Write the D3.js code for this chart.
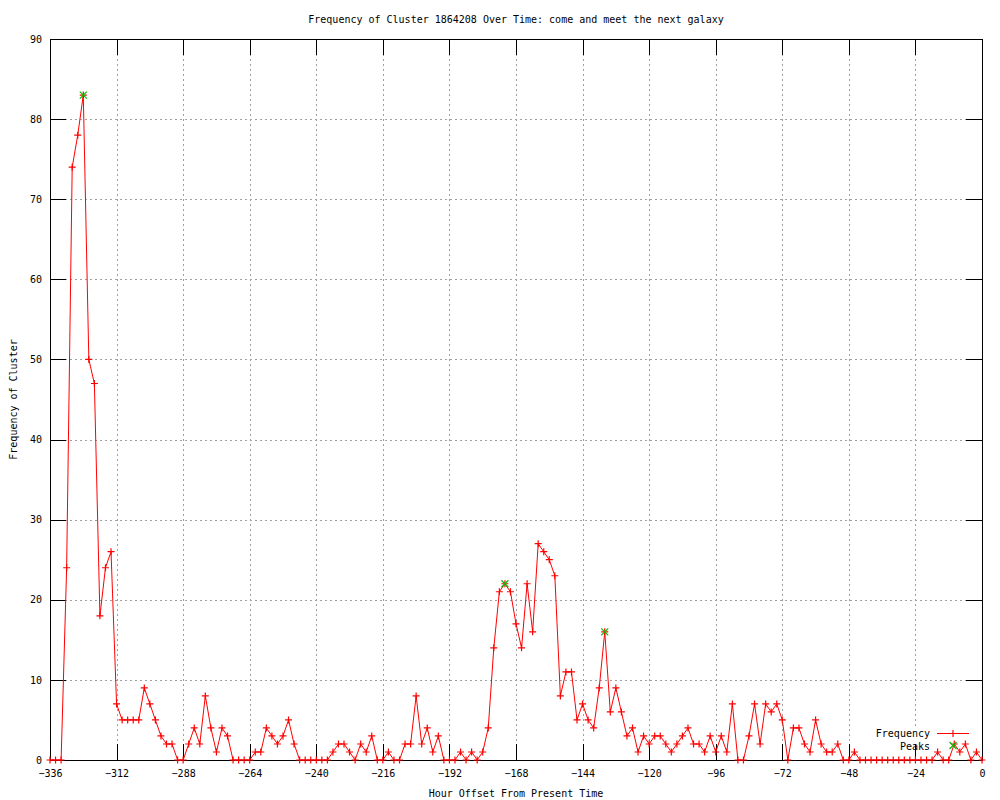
<!DOCTYPE html>
<html>
<head>
<meta charset="utf-8">
<script src="https://cdn.jsdelivr.net/npm/d3@7"></script>
<style>
  html, body { margin: 0; padding: 0; background: #fff; }
  svg { display: block; }
  text { font-family: "DejaVu Sans Mono", monospace; font-size: 10px; fill: #000; }
</style>
</head>
<body>
<div id="chart"></div>
<script>
// ---- Data ----
const titleText = "Frequency of Cluster 1864208 Over Time: come and meet the next galaxy";
const xLabel = "Hour Offset From Present Time";
const yLabel = "Frequency of Cluster";
const seriesNames = ["Frequency", "Peaks"];

// hours from -336 to 0, every 2 hours
const hours = d3.range(-336, 1, 2);
const frequency = [
  0, 0, 0, 24, 74, 78, 83, 50, 47, 18,
  24, 26, 7, 5, 5, 5, 5, 9, 7, 5,
  3, 2, 2, 0, 0, 2, 4, 2, 8, 4,
  1, 4, 3, 0, 0, 0, 0, 1, 1, 4,
  3, 2, 3, 5, 2, 0, 0, 0, 0, 0,
  0, 1, 2, 2, 1, 0, 2, 1, 3, 0,
  0, 1, 0, 0, 2, 2, 8, 2, 4, 1,
  3, 0, 0, 0, 1, 0, 1, 0, 1, 4,
  14, 21, 22, 21, 17, 14, 22, 16, 27, 26,
  25, 23, 8, 11, 11, 5, 7, 5, 4, 9,
  16, 6, 9, 6, 3, 4, 1, 3, 2, 3,
  3, 2, 1, 2, 3, 4, 2, 2, 1, 3,
  1, 3, 1, 7, 0, 0, 3, 7, 2, 7,
  6, 7, 5, 0, 4, 4, 2, 1, 5, 2,
  1, 1, 2, 0, 0, 1, 0, 0, 0, 0,
  0, 0, 0, 0, 0, 0, 0, 0, 0, 0,
  1, 0, 0, 2, 1, 2, 0, 1, 0
];
const peakHours = [-324, -172, -136];
const peakValues = [83, 22, 16];

const xTicks = d3.range(-336, 1, 24);
const yTicks = d3.range(0, 91, 10);

// ---- Layout ----
const W = 1000, H = 800;
const pLeft = 50, pRight = 982, pTop = 39, pBottom = 760;
const tickLen = 16;
const red = "#ff0000", green = "#00c000";

const svg = d3.select("#chart").append("svg").attr("width", W).attr("height", H);

const x = d3.scaleLinear().domain([-336, 0]).range([pLeft, pRight]);
const y = d3.scaleLinear().domain([0, 90]).range([pBottom, pTop]);

const freqData = hours.map((h, i) => ({ h, v: frequency[i] }));
const peakData = peakHours.map((h, i) => ({ h, v: peakValues[i] }));

const crisp = v => Math.round(v) + 0.5;

// grid
const grid = svg.append("g").attr("stroke", "#a0a0a0").attr("stroke-dasharray", "2,3")
  .attr("shape-rendering", "crispEdges");
xTicks.filter(t => t !== -336 && t !== 0).forEach(t => {
  grid.append("line").attr("x1", crisp(x(t))).attr("x2", crisp(x(t)))
    .attr("y1", pTop).attr("y2", pBottom);
});
yTicks.filter(t => t !== 0 && t !== 90).forEach(t => {
  grid.append("line").attr("y1", crisp(y(t))).attr("y2", crisp(y(t)))
    .attr("x1", pLeft).attr("x2", pRight);
});

// legend background (key area hides grid)
svg.append("rect").attr("x", 868).attr("y", 726).attr("width", 108).attr("height", 27).attr("fill", "#fff");

// axes via d3 axis generators (inner ticks, mirrored)
const axisStyle = g => {
  g.select(".domain").remove();
  g.selectAll("line").attr("stroke", "#000").attr("shape-rendering", "crispEdges");
};
const bottomAxis = svg.append("g").attr("transform", `translate(0,${pBottom})`)
  .call(d3.axisBottom(x).tickValues(xTicks).tickFormat(d3.format("d")).tickSizeInner(-tickLen).tickSizeOuter(0));
bottomAxis.call(axisStyle);
bottomAxis.selectAll("text").attr("y", 13).attr("dy", "0.35em")
  .attr("font-family", "DejaVu Sans Mono").attr("font-size", 10);

const topAxis = svg.append("g").attr("transform", `translate(0,${pTop})`)
  .call(d3.axisTop(x).tickValues(xTicks).tickFormat("").tickSizeInner(-tickLen).tickSizeOuter(0));
topAxis.call(axisStyle);

const leftAxis = svg.append("g").attr("transform", `translate(${pLeft},0)`)
  .call(d3.axisLeft(y).tickValues(yTicks).tickSizeInner(-tickLen).tickSizeOuter(0));
leftAxis.call(axisStyle);
leftAxis.selectAll("text").attr("x", -8).attr("font-family", "DejaVu Sans Mono").attr("font-size", 10);

const rightAxis = svg.append("g").attr("transform", `translate(${pRight},0)`)
  .call(d3.axisRight(y).tickValues(yTicks).tickFormat("").tickSizeInner(-tickLen).tickSizeOuter(0));
rightAxis.call(axisStyle);

// border
svg.append("rect").attr("x", pLeft + 0.5).attr("y", pTop + 0.5)
  .attr("width", pRight - pLeft).attr("height", pBottom - pTop)
  .attr("fill", "none").attr("stroke", "#000").attr("shape-rendering", "crispEdges");

// frequency line
const line = d3.line().x(d => x(d.h)).y(d => y(d.v));
svg.append("path").datum(freqData).attr("d", line)
  .attr("fill", "none").attr("stroke", red).attr("stroke-width", 1);

const ps = 3.5;
const plus = (g, cx, cy, color) => {
  g.append("path").attr("d", `M${cx - ps},${cy}H${cx + ps}M${cx},${cy - ps}V${cy + ps}`)
    .attr("stroke", color).attr("stroke-width", 1.2).attr("fill", "none");
};
const cross = (g, cx, cy, color) => {
  g.append("path").attr("d", `M${cx - ps},${cy - ps}L${cx + ps},${cy + ps}M${cx - ps},${cy + ps}L${cx + ps},${cy - ps}`)
    .attr("stroke", color).attr("stroke-width", 1.2).attr("fill", "none");
};

const marks = svg.append("g");
freqData.forEach(d => plus(marks, x(d.h), y(d.v), red));
const peaksG = svg.append("g");
peakData.forEach(d => cross(peaksG, x(d.h), y(d.v), green));

// legend
const lg = svg.append("g");
lg.append("text").attr("x", 930).attr("y", 733).attr("dy", "0.35em").attr("text-anchor", "end").text(seriesNames[0]);
lg.append("line").attr("x1", 937).attr("x2", 969).attr("y1", 733.5).attr("y2", 733.5).attr("stroke", red);
plus(lg, 953, 733.5, red);
lg.append("text").attr("x", 930).attr("y", 746).attr("dy", "0.35em").attr("text-anchor", "end").text(seriesNames[1]);
cross(lg, 953, 745.5, green);

// titles
svg.append("text").attr("x", (pLeft + pRight) / 2).attr("y", 19).attr("dy", "0.35em")
  .attr("text-anchor", "middle").style("font-size", "10px").text(titleText);
svg.append("text").attr("x", (pLeft + pRight) / 2).attr("y", 793).attr("dy", "0.35em")
  .attr("text-anchor", "middle").text(xLabel);
svg.append("text").attr("transform", `translate(13,${(pTop + pBottom) / 2}) rotate(-90)`)
  .attr("dy", "0.35em").attr("text-anchor", "middle").text(yLabel);
</script>
</body>
</html>
